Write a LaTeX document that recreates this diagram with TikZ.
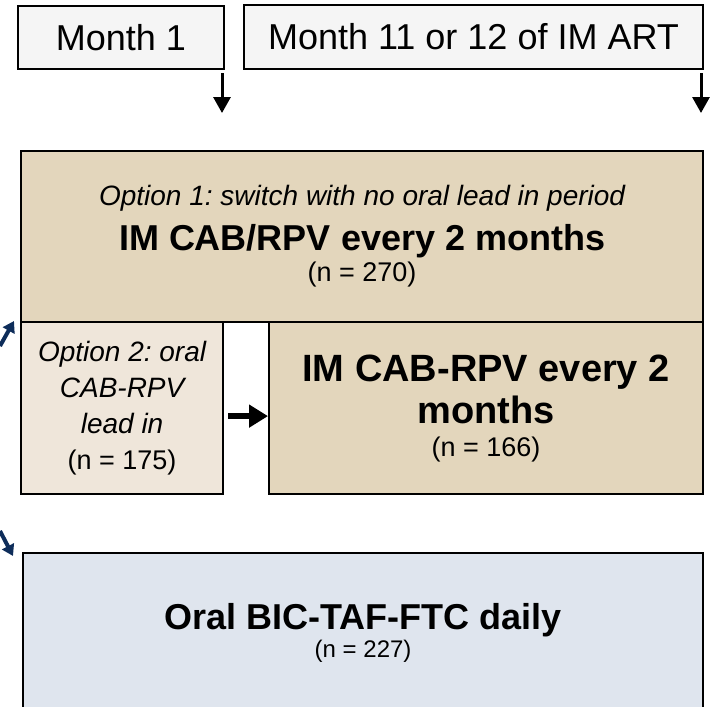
\documentclass[tikz,border=0pt]{standalone}
\usepackage{fontspec}
\setmainfont{Liberation Sans}
\usepackage{xcolor}
\usetikzlibrary{arrows.meta}
\frenchspacing
\definecolor{monthgray}{HTML}{F5F5F5}
\definecolor{tanfill}{HTML}{E3D6BC}
\definecolor{lighttan}{HTML}{EFE6DA}
\definecolor{oralblue}{HTML}{DFE5EE}
\definecolor{navy}{HTML}{0E2D5A}
\newcommand{\optfont}{\fontsize{28}{36}\selectfont\itshape}
\newcommand{\headfont}{\fontsize{36}{36}\selectfont\bfseries}
\newcommand{\nfont}{\fontsize{27}{36}\selectfont}

\begin{document}
\begin{tikzpicture}[x=1pt,y=-1pt,
    monthbox/.style={draw=black,line width=2pt,fill=monthgray,anchor=north west,inner sep=0pt,align=center,font=\fontsize{36}{40}\selectfont},
    armbox/.style={draw=black,line width=2.2pt,anchor=north west,inner sep=0pt,align=center,font=\fontsize{28}{36}\selectfont},
    timearrow/.style={line width=3pt,-{Triangle[length=16pt,width=17pt]}},
    leadarrow/.style={line width=6pt,-{Triangle[length=19pt,width=22pt]}},
    bluearrow/.style={navy,line width=4pt,-{Triangle[length=11pt,width=13pt]}}]
    \useasboundingbox (0,0) rectangle (710,707);
    \node[monthbox,minimum width=206pt,minimum height=63pt] (month1) at (17,5) {Month 1};
    \node[monthbox,minimum width=459pt,minimum height=64pt] (month11) at (243,4) {Month 11 or 12 of IM ART};
    \coordinate (t1) at (222,113);
    \coordinate (t11) at (701,113);
    \draw[timearrow] ([yshift=-3pt]t1 |- month1.south) -- (t1);
    \draw[timearrow] ([yshift=-3pt]t11 |- month11.south) -- (t11);
    % long acting arm
    \node[armbox,fill=tanfill,minimum width=682pt,minimum height=171pt] (opt1) at (20,150)
        {{\optfont Option 1: switch with no oral lead in period}\\[9pt]
         {\headfont IM CAB/RPV every 2 months}\\[-5pt]
         {\nfont (n = 270)}};
    \node[armbox,fill=lighttan,minimum width=202pt,minimum height=172pt] (opt2) at (20,321)
        {{\optfont Option 2: oral}\\
         {\optfont CAB-RPV}\\
         {\optfont lead in}\\
         {\nfont (n = 175)}};
    \node[armbox,fill=tanfill,minimum width=434pt,minimum height=172pt] (inj2) at (268,321)
        {{\fontsize{38}{36}\selectfont\bfseries IM CAB-RPV every 2}\\[6pt]
         {\fontsize{38}{36}\selectfont\bfseries months}\\[-3pt]
         {\nfont (n = 166)}};
    \draw[leadarrow] ([shift={(4,8)}]opt2.east) -- ([yshift=-8pt]inj2.west);
    % oral arm
    \node[armbox,fill=oralblue,minimum width=680pt,minimum height=160pt] (oral) at (22,552)
        {{\headfont Oral BIC-TAF-FTC daily}\\[-8pt]
         {\fontsize{24}{36}\selectfont (n = 227)}};
    \coordinate (b1) at (0,346);
    \coordinate (b2) at (0,531);
    \draw[bluearrow] (b1) -- ([xshift=-6pt]opt2.north west);
    \draw[bluearrow] (b2) -- ([shift={(-9,4)}]oral.north west);
\end{tikzpicture}
\end{document}
